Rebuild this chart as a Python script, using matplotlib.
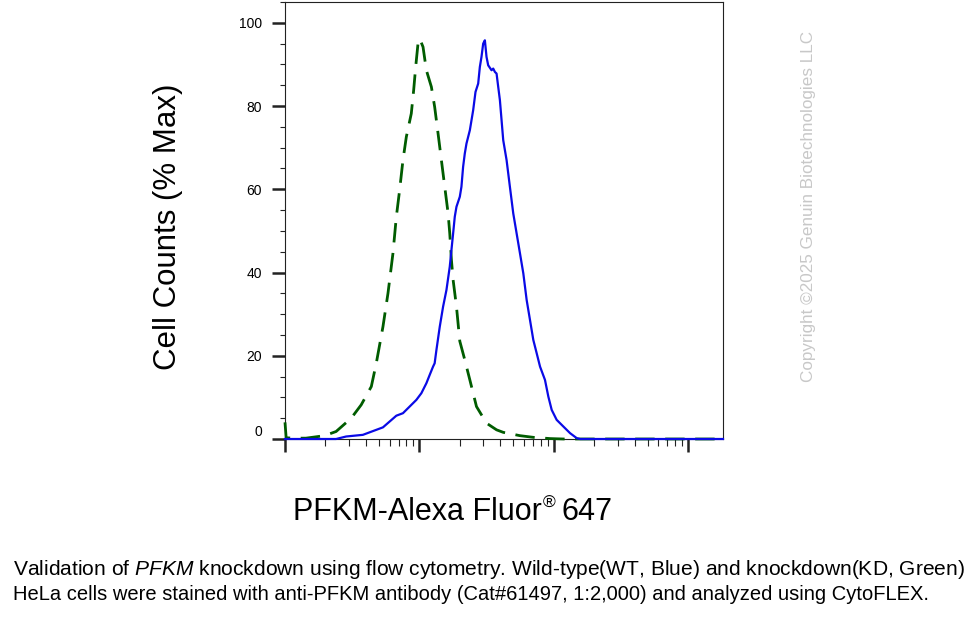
import matplotlib
matplotlib.use("Agg")
import matplotlib.pyplot as plt
from matplotlib.ticker import MultipleLocator, LogLocator, NullFormatter, FixedLocator

plt.rcParams['font.family'] = ['Liberation Sans', 'DejaVu Sans']
plt.rcParams['mathtext.fontset'] = 'custom'
plt.rcParams['mathtext.rm'] = 'Liberation Sans'
plt.rcParams['mathtext.it'] = 'Liberation Sans:italic'

# ---- data ----
kd_x = [1000, 1020, 1140, 1430, 1970, 2400, 3110, 3690, 4390, 4780, 5360, 5840,
        6360, 6740, 7130, 7550, 8000, 8710, 9070, 9390, 9770, 10060, 10650,
        11280, 12290, 13000, 13780, 14590, 15450, 16370, 16840, 17330, 17840,
        18890, 20000, 21790, 23760, 26620, 31620, 37560, 42100, 56100, 70500,
        93900, 118000, 1820000]
kd_y = [4.0, 0.3, 0.2, 0.2, 0.8, 1.8, 5.0, 8.2, 12.6, 18.2, 27.0, 35.0,
        44.6, 53.4, 59.8, 67.0, 72.6, 78.2, 83.8, 89.4, 95.0, 96.2, 94.2,
        88.6, 84.6, 79.8, 73.4, 67.0, 60.6, 54.2, 49.4, 43.0, 38.2,
        31.8, 23.5, 19.0, 14.2, 7.8, 3.8, 2.2, 1.6, 0.8, 0.4,
        0.1, 0.0, 0.0]

wt_x = [1000, 2400, 2850, 3800, 4260, 4780, 5360, 6010, 6740, 7550, 8470, 9500,
        10350, 11280, 11940, 12650, 13000, 13400, 14190, 15020, 15910, 16840,
        17330, 17840, 18350, 18890, 20000, 20570, 21170, 21790, 22430, 23760,
        25150, 26180, 27410, 28200, 29000, 29860, 30740, 31620, 32530, 34460,
        35460, 36500, 37560, 38640, 39770, 42100, 44600, 47200, 50000, 52960,
        56100, 59400, 62900, 66600, 70500, 74700, 79100, 86100, 91200, 96600,
        105200, 118000, 132400, 148500, 157300, 1820000]
wt_y = [0.0, 0.0, 0.6, 1.0, 1.6, 2.2, 2.8, 4.2, 5.6, 6.2, 7.8, 9.4,
        11.0, 13.4, 15.4, 17.4, 18.2, 21.4, 27.0, 31.8, 35.8, 41.4,
        45.4, 49.4, 53.4, 55.8, 58.2, 60.6, 65.4, 68.6, 71.0, 74.2,
        79.0, 83.4, 85.4, 89.4, 91.8, 95.0, 95.8, 91.8, 89.8, 88.6,
        89.0, 88.2, 87.8, 84.6, 81.4, 71.8, 67.0, 60.6, 54.2, 49.4,
        44.6, 39.8, 33.4, 28.6, 23.8, 20.6, 17.4, 14.2, 10.2, 7.0,
        4.6, 3.0, 1.4, 0.2, 0.0, 0.0]

y_ticks = [0, 20, 40, 60, 80, 100]
x_major = [1e3, 1e4, 1e5, 1e6]
x_range = (1e3, 1.82e6)
y_range = (0, 105)

W, H = 980, 620
fig = plt.figure(figsize=(9.8, 6.2), dpi=100)
ax = fig.add_axes([285 / W, 1 - 439 / H, (723 - 285) / W, (439 - 2) / H])

ax.plot(kd_x, kd_y, color='#005c00', lw=2.0, linestyle=(0, (7, 3.8)),
        clip_on=False, zorder=3)
ax.plot(wt_x, wt_y, color='#0a0ae6', lw=1.6, clip_on=False, zorder=4)

ax.set_xscale('log')
ax.set_xlim(*x_range)
ax.set_ylim(*y_range)

ax.xaxis.set_major_locator(FixedLocator(x_major))
ax.xaxis.set_minor_locator(LogLocator(base=10, subs=range(2, 10), numticks=20))
ax.xaxis.set_major_formatter(NullFormatter())
ax.xaxis.set_minor_formatter(NullFormatter())
ax.yaxis.set_major_locator(FixedLocator(y_ticks))
ax.yaxis.set_minor_locator(MultipleLocator(5))
ax.set_yticklabels([str(v) for v in y_ticks])

for s in ax.spines.values():
    s.set_linewidth(0.8)
    s.set_color('#222222')

ax.tick_params(axis='both', which='major', direction='out', length=9.5,
               width=1.8, color='#222222', labelsize=10, pad=7)
ax.tick_params(axis='y', which='minor', direction='out', length=3.6,
               width=0.8, color='#222222')
ax.tick_params(axis='x', which='minor', direction='out', length=5,
               width=0.8, color='#222222')
ax.tick_params(top=False, right=False, which='both')

labs = ax.get_yticklabels()
labs[0].set_va('bottom')

fig.text(168 / W, 1 - 227 / H, 'Cell Counts (% Max)', rotation=90,
         ha='center', va='center', fontsize=22.5, color='black')

# x label built from pieces so the registered sign is small and raised
renderer = fig.canvas.get_renderer()
t1 = fig.text(293 / W, 1 - 520 / H, 'PFKM-Alexa Fluor', ha='left',
              va='baseline', fontsize=22, color='black')
x_end = t1.get_window_extent(renderer).x1
t2 = fig.text((x_end + 1) / W, 1 - 508 / H, '®', ha='left', va='baseline',
              fontsize=12.5, color='black')
x_end2 = t2.get_window_extent(renderer).x1
fig.text((x_end2 + 6) / W, 1 - 520 / H, '647', ha='left', va='baseline',
         fontsize=22, color='black')

fig.text(13 / W, 1 - 575 / H,
         'Validation of $\\mathit{PFKM}$ knockdown using flow cytometry. '
         'Wild-type(WT, Blue) and knockdown(KD, Green)',
         ha='left', va='baseline', fontsize=15.1, color='black')
fig.text(13 / W, 1 - 600 / H,
         'HeLa cells were stained with anti-PFKM antibody (Cat#61497, 1:2,000) '
         'and analyzed using CytoFLEX.',
         ha='left', va='baseline', fontsize=14.5, color='black')

fig.text(808 / W, 1 - 206 / H, 'Copyright ©2025 Genuin Biotechnologies LLC',
         rotation=90, ha='center', va='center', fontsize=12.3, color='#c8c8c8')

fig.savefig('out.png', dpi=100)
